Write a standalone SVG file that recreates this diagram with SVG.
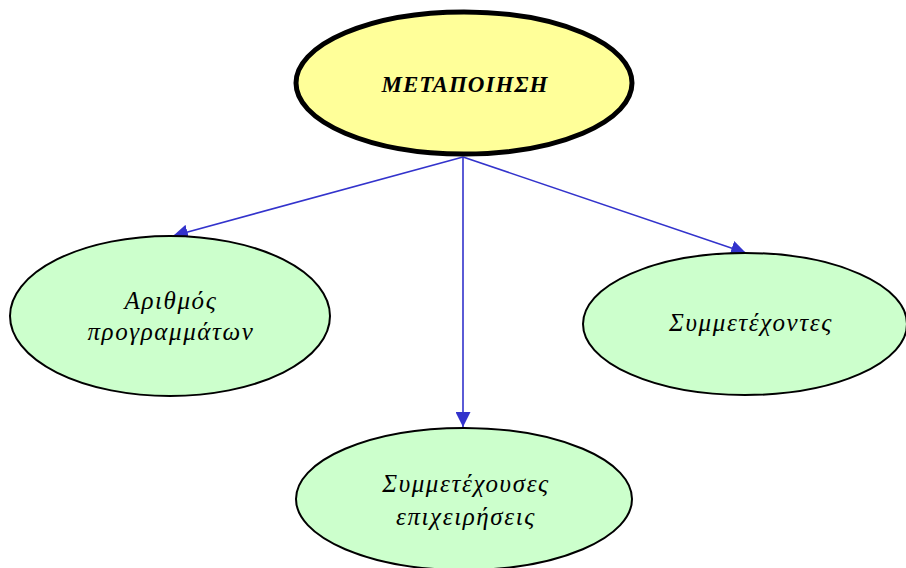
<svg xmlns="http://www.w3.org/2000/svg" width="906" height="568" viewBox="0 0 906 568">
<defs>
<style>
.n{fill:#ccffcc;stroke:#000;stroke-width:2}
.t{font-family:"Liberation Serif","DejaVu Serif",serif;font-style:italic;font-size:25px;letter-spacing:1.6px;fill:#000;text-anchor:middle}
.c{stroke:#3333cc;stroke-width:1.6;fill:none;marker-end:url(#ah)}
</style>
<marker id="ah" viewBox="0 0 10 10" refX="10" refY="5" markerWidth="15" markerHeight="15" markerUnits="userSpaceOnUse" orient="auto">
<path d="M0,0 L10,5 L0,10 z" fill="#3333cc"/>
</marker>
</defs>
<rect width="906" height="568" fill="#fff"/>
<g id="connectors">
<line class="c" x1="463" y1="157" x2="173" y2="236"/>
<line class="c" x1="463" y1="157" x2="463" y2="427"/>
<line class="c" x1="463" y1="157" x2="746" y2="253"/>
</g>
<g id="node-metapoiisi">
<ellipse cx="464" cy="83" rx="168" ry="71" fill="#ffff99" stroke="#000" stroke-width="5"/>
<text class="t" x="465" y="92" style="font-weight:bold;font-size:23px;letter-spacing:1px">ΜΕΤΑΠΟΙΗΣΗ</text>
</g>
<g id="node-arithmos">
<ellipse class="n" cx="170" cy="316" rx="160" ry="80"/>
<text class="t" x="171" y="309">Αριθμός</text>
<text class="t" x="171" y="340">προγραμμάτων</text>
</g>
<g id="node-symmetechontes">
<ellipse class="n" cx="745" cy="324" rx="162" ry="71"/>
<text class="t" x="751" y="331">Συμμετέχοντες</text>
</g>
<g id="node-epicheiriseis">
<ellipse class="n" cx="464" cy="499" rx="168" ry="71"/>
<text class="t" x="466" y="492">Συμμετέχουσες</text>
<text class="t" x="466" y="525">επιχειρήσεις</text>
</g>
</svg>
